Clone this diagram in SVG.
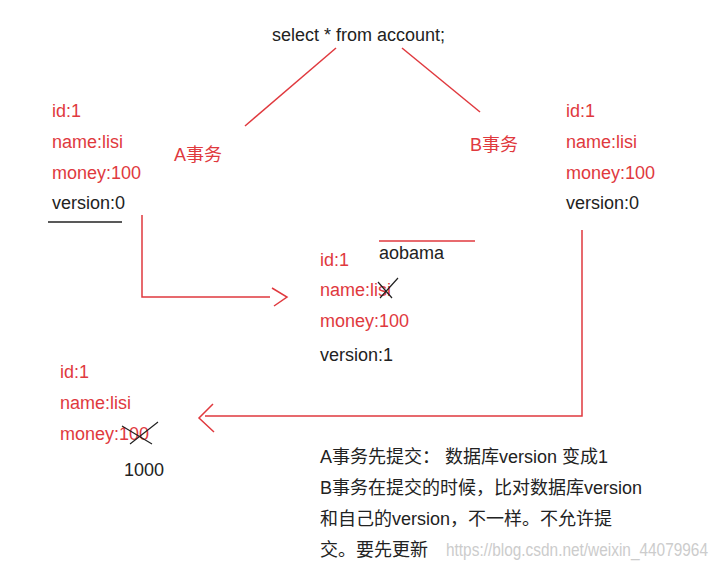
<svg xmlns="http://www.w3.org/2000/svg" width="727" height="573" viewBox="0 0 727 573">
<style>
text{font-family:"Liberation Sans","Noto Sans CJK SC",sans-serif;font-size:18px}
.r{fill:#e0393e}.k{fill:#222}
.l{stroke:#e0393e;stroke-width:1.5;fill:none}
.x{stroke:#222;stroke-width:1.2;fill:none}
</style>
<rect width="727" height="573" fill="#fff"/>
<g id="query"><text x="272" y="41" class="k">select * from account;</text></g>
<g id="labelA"><text x="174" y="161" class="r" font-size="16">A事务</text></g>
<g id="labelB"><text x="470" y="151" class="r" font-size="16">B事务</text></g>
<g id="nodeA">
<text x="52" y="117" class="r">id:1</text>
<text x="52" y="148" class="r">name:lisi</text>
<text x="52" y="179" class="r">money:100</text>
<text x="52" y="209" class="k">version:0</text>
<line x1="48" y1="222" x2="122" y2="222" stroke="#222" stroke-width="1.5"/>
</g>
<g id="nodeB">
<text x="566" y="117" class="r">id:1</text>
<text x="566" y="148" class="r">name:lisi</text>
<text x="566" y="179" class="r">money:100</text>
<text x="566" y="209" class="k">version:0</text>
</g>
<g id="nodeMid">
<text x="379" y="259" class="k">aobama</text>
<line x1="379" y1="241" x2="475" y2="241" class="l"/>
<text x="320" y="266" class="r">id:1</text>
<text x="320" y="296" class="r">name:lisi</text>
<path d="M378 282 L392 298 M380 298 L398 278" class="x"/>
<text x="320" y="327" class="r">money:100</text>
<text x="320" y="361" class="k">version:1</text>
</g>
<g id="nodeLow">
<text x="60" y="378" class="r">id:1</text>
<text x="60" y="409" class="r">name:lisi</text>
<text x="60" y="440" class="r">money:100</text>
<path d="M122 426 L152 444 M130 444 L158 422" class="x"/>
<text x="124" y="476" class="k">1000</text>
</g>
<g id="note">
<text x="320" y="463" class="k" font-size="16">A事务先提交： 数据库version 变成1</text>
<text x="320" y="494" class="k" font-size="16">B事务在提交的时候，比对数据库version</text>
<text x="320" y="525" class="k" font-size="16">和自己的version，不一样。不允许提</text>
<text x="320" y="556" class="k" font-size="16">交。要先更新</text>
<text x="446" y="556" fill="#ccc" font-size="15" textLength="262" lengthAdjust="spacingAndGlyphs">https://blog.csdn.net/weixin_44079964</text>
</g>
<g id="connectors">
<line x1="336" y1="48" x2="245" y2="126" class="l"/>
<line x1="402" y1="48" x2="480" y2="112" class="l"/>
<path d="M142 215 V297 H270" class="l"/>
<path d="M272 288 L287 297 L274 306" class="l"/>
<path d="M582 230 V416 H205" class="l"/>
<path d="M213 404 L199 418 L214 432" class="l"/>
</g>
</svg>
